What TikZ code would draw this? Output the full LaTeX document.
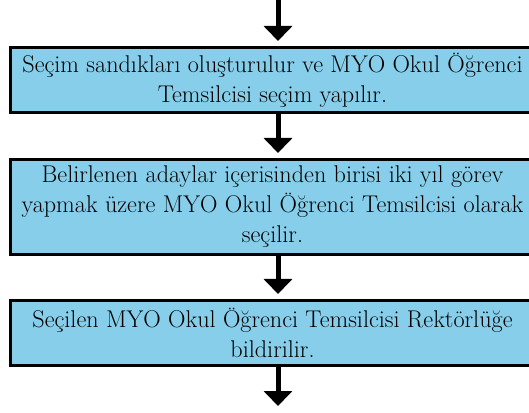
\documentclass[tikz,border=0pt]{standalone}
\usetikzlibrary{arrows.meta}
\definecolor{stepblue}{RGB}{135,206,235}
\begin{document}
\begin{tikzpicture}[x=1pt,y=1pt,
  stagebox/.style={draw=black,line width=3pt,fill=stepblue,minimum width=524pt,
    align=center,inner sep=0pt,font=\fontsize{24.2}{30}\selectfont},
  flowarrow/.style={line width=5pt,-{Triangle[width=28pt,length=15pt]},shorten >=5pt}]
\useasboundingbox (0,0) rectangle (529,412);
\clip (0,0) rectangle (529,412);
% steps
\node[stagebox,minimum height=65pt] (sandik) at (272.5,332) {Seçim sandıkları oluşturulur ve MYO Okul Öğrenci\\Temsilcisi seçim yapılır.};
\node[stagebox,minimum height=95pt] (aday) at (272.5,205) {Belirlenen adaylar içerisinden birisi iki yıl görev\\yapmak üzere MYO Okul Öğrenci Temsilcisi olarak\\seçilir.};
\node[stagebox,minimum height=65pt] (rektor) at (272.5,79) {Seçilen MYO Okul Öğrenci Temsilcisi Rektörlüğe\\bildirilir.};
% arrows
\coordinate (giris) at (278,412);
\coordinate (cikis) at (278,6);
\draw[flowarrow] (giris) -- (giris |- sandik.north);
\draw[flowarrow,shorten <=-1.5pt] (giris |- sandik.south) -- (giris |- aday.north);
\draw[flowarrow,shorten <=-1.5pt] (giris |- aday.south) -- (giris |- rektor.north);
\draw[flowarrow,shorten >=0pt,shorten <=-1.5pt] (giris |- rektor.south) -- (cikis);
\end{tikzpicture}
\end{document}
